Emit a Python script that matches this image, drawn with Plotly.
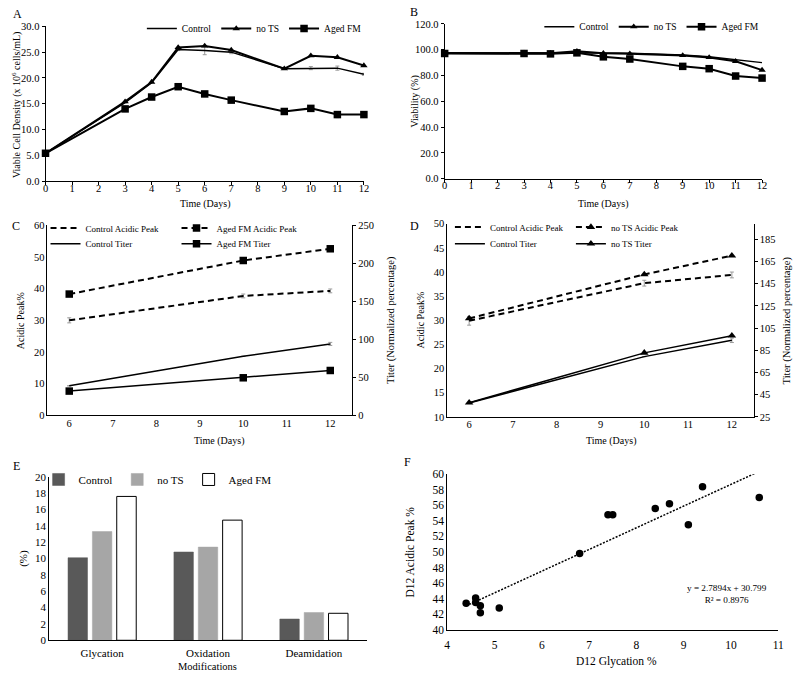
import plotly.graph_objects as go

W, H = 800, 678

# ---------------- data ----------------
days_A = [0, 3, 4, 5, 6, 7, 9, 10, 11, 12]
vcd_control = [5.4, 15.2, 19.1, 25.5, 25.3, 25.0, 21.8, 21.9, 21.9, 20.7]
vcd_control_err = [0, 0, 0, 0.2, 0.8, 0.3, 0, 0.3, 0.4, 0.2]
vcd_nots = [5.4, 15.4, 19.2, 25.9, 26.2, 25.4, 21.8, 24.3, 24.0, 22.4]
vcd_aged = [5.4, 14.0, 16.3, 18.3, 16.9, 15.7, 13.5, 14.1, 12.9, 12.9]
vcd_aged_err = [0, 0, 0, 0, 0, 0, 0, 0, 0.6, 0]

via_control = [97.5, 97.6, 97.5, 98.0, 97.5, 97.3, 96.0, 94.5, 92.0, 90.0]
via_nots = [97.5, 97.5, 97.3, 98.8, 97.3, 96.9, 95.6, 94.0, 91.0, 84.2]
via_aged = [97.1, 97.1, 96.8, 97.6, 94.5, 92.8, 87.1, 85.3, 79.6, 78.0]

days_CD = [6, 10, 12]
c_ctrl_acid = [30.0, 37.7, 39.3]
c_ctrl_acid_err = [0.8, 0.6, 0.6]
c_aged_acid = [38.3, 48.9, 52.6]
c_ctrl_titer = [38.8, 77.6, 94.0]
c_ctrl_titer_err = [0, 0, 2.0]
c_aged_titer = [31.9, 49.4, 59.0]

d_ctrl_acid = [29.9, 37.7, 39.4]
d_ctrl_acid_err = [0.9, 0.6, 0.6]
d_nots_acid = [30.4, 39.5, 43.4]
d_ctrl_titer = [37.6, 79.3, 94.0]
d_ctrl_titer_err = [0, 0, 2.0]
d_nots_titer = [37.8, 82.7, 98.2]

mod_cats = ["Glycation", "Oxidation", "Deamidation"]
mod_control = [10.1, 10.8, 2.6]
mod_nots = [13.3, 11.4, 3.4]
mod_aged = [17.6, 14.7, 3.3]

f_glycation = [4.4, 4.6, 4.6, 4.7, 4.7, 5.1, 6.8, 7.4, 7.5, 8.4, 8.7, 9.1, 9.4, 10.6]
f_acidic = [43.4, 44.1, 43.5, 43.1, 42.2, 42.8, 49.8, 54.8, 54.8, 55.6, 56.2, 53.5, 58.4, 57.0]
trend_slope = 2.7894
trend_intercept = 30.799
trend_x = [4.4, 10.5]
trend_label = "y = 2.7894x + 30.799<br>R² = 0.8976"

# ---------------- helpers ----------------
FONT = "Liberation Serif"
def fx(p):
    return p / W
def fy(p):
    return 1 - p / H

ERR = dict(color="#9a9a9a", thickness=1, width=2)

def errs(arr):
    return dict(type="data", array=arr, visible=True, **ERR)

fig = go.Figure()

# ---------- Panel A ----------
fig.add_trace(go.Scatter(x=days_A, y=vcd_control, name="Control", mode="lines",
                         line=dict(color="black", width=1.5), error_y=errs(vcd_control_err),
                         xaxis="x", yaxis="y", legend="legend", cliponaxis=False))
fig.add_trace(go.Scatter(x=days_A, y=vcd_nots, name="no TS", mode="lines+markers",
                         line=dict(color="black", width=2),
                         marker=dict(symbol="triangle-up", size=6.5, color="black"),
                         xaxis="x", yaxis="y", legend="legend", cliponaxis=False))
fig.add_trace(go.Scatter(x=days_A, y=vcd_aged, name="Aged FM", mode="lines+markers",
                         line=dict(color="black", width=2),
                         marker=dict(symbol="square", size=7.5, color="black"),
                         error_y=errs(vcd_aged_err),
                         xaxis="x", yaxis="y", legend="legend", cliponaxis=False))

# ---------- Panel B ----------
fig.add_trace(go.Scatter(x=days_A, y=via_control, name="Control", mode="lines",
                         line=dict(color="black", width=1.5),
                         xaxis="x2", yaxis="y2", legend="legend2", cliponaxis=False))
fig.add_trace(go.Scatter(x=days_A, y=via_nots, name="no TS", mode="lines+markers",
                         line=dict(color="black", width=2),
                         marker=dict(symbol="triangle-up", size=6.5, color="black"),
                         xaxis="x2", yaxis="y2", legend="legend2", cliponaxis=False))
fig.add_trace(go.Scatter(x=days_A, y=via_aged, name="Aged FM", mode="lines+markers",
                         line=dict(color="black", width=2),
                         marker=dict(symbol="square", size=7.5, color="black"),
                         xaxis="x2", yaxis="y2", legend="legend2", cliponaxis=False))

DASH = "6px,4px"
# ---------- Panel C ----------
fig.add_trace(go.Scatter(x=days_CD, y=c_ctrl_acid, name="Control Acidic Peak", mode="lines",
                         line=dict(color="black", width=2, dash=DASH), error_y=errs(c_ctrl_acid_err),
                         xaxis="x3", yaxis="y3", legend="legend3", legendwidth=86, cliponaxis=False))
fig.add_trace(go.Scatter(x=days_CD, y=c_aged_acid, name="Aged FM Acidic Peak", mode="lines+markers",
                         line=dict(color="black", width=2, dash=DASH),
                         marker=dict(symbol="square", size=7.5, color="black"),
                         xaxis="x3", yaxis="y3", legend="legend3", legendwidth=95, cliponaxis=False))
fig.add_trace(go.Scatter(x=days_CD, y=c_ctrl_titer, name="Control Titer", mode="lines",
                         line=dict(color="black", width=1.5), error_y=errs(c_ctrl_titer_err),
                         xaxis="x3", yaxis="y4", legend="legend4", legendwidth=86, cliponaxis=False))
fig.add_trace(go.Scatter(x=days_CD, y=c_aged_titer, name="Aged FM Titer", mode="lines+markers",
                         line=dict(color="black", width=1.5),
                         marker=dict(symbol="square", size=7.5, color="black"),
                         xaxis="x3", yaxis="y4", legend="legend4", legendwidth=95, cliponaxis=False))

# ---------- Panel D ----------
fig.add_trace(go.Scatter(x=days_CD, y=d_ctrl_acid, name="Control Acidic Peak", mode="lines",
                         line=dict(color="black", width=2, dash=DASH), error_y=errs(d_ctrl_acid_err),
                         xaxis="x4", yaxis="y5", legend="legend5", legendwidth=76, cliponaxis=False))
fig.add_trace(go.Scatter(x=days_CD, y=d_nots_acid, name="no TS Acidic Peak", mode="lines+markers",
                         line=dict(color="black", width=2, dash=DASH),
                         marker=dict(symbol="triangle-up", size=7.5, color="black"),
                         xaxis="x4", yaxis="y5", legend="legend5", legendwidth=90, cliponaxis=False))
fig.add_trace(go.Scatter(x=days_CD, y=d_ctrl_titer, name="Control Titer", mode="lines",
                         line=dict(color="black", width=1.5), error_y=errs(d_ctrl_titer_err),
                         xaxis="x4", yaxis="y6", legend="legend6", legendwidth=76, cliponaxis=False))
fig.add_trace(go.Scatter(x=days_CD, y=d_nots_titer, name="no TS Titer", mode="lines+markers",
                         line=dict(color="black", width=1.5),
                         marker=dict(symbol="triangle-up", size=7.5, color="black"),
                         xaxis="x4", yaxis="y6", legend="legend6", legendwidth=90, cliponaxis=False))

# ---------- Panel E ----------
fig.add_trace(go.Bar(x=mod_cats, y=mod_control, name="Control",
                     marker=dict(color="#595959", line=dict(color="#595959", width=0.5)),
                     xaxis="x5", yaxis="y7", legend="legend7"))
fig.add_trace(go.Bar(x=mod_cats, y=mod_nots, name="no TS",
                     marker=dict(color="#a6a6a6", line=dict(color="#a6a6a6", width=0.5)),
                     xaxis="x5", yaxis="y7", legend="legend7"))
fig.add_trace(go.Bar(x=mod_cats, y=mod_aged, name="Aged FM",
                     marker=dict(color="white", line=dict(color="black", width=1)),
                     xaxis="x5", yaxis="y7", legend="legend7"))

# ---------- Panel F ----------
fig.add_trace(go.Scatter(x=f_glycation, y=f_acidic, mode="markers", showlegend=False,
                         marker=dict(symbol="circle", size=7.5, color="black"),
                         xaxis="x6", yaxis="y8", cliponaxis=False))
trend_y = [trend_slope * v + trend_intercept for v in trend_x]
fig.add_trace(go.Scatter(x=trend_x, y=trend_y, mode="lines", showlegend=False,
                         line=dict(color="black", width=1.5, dash="2px,1.5px"),
                         xaxis="x6", yaxis="y8", cliponaxis=False))

# ---------------- axes ----------------
TICKF = dict(family=FONT, size=10.5, color="black")
TICKF_EF = dict(family=FONT, size=11.5, color="black")
base = dict(showline=True, linecolor="black", linewidth=1, showgrid=False, zeroline=False,
            ticks="outside", ticklen=3, tickcolor="black", tickwidth=1, tickfont=TICKF)

def xa(d0, d1, anchor, **kw):
    a = dict(base); a.update(domain=[fx(d0), fx(d1)], anchor=anchor); a.update(kw); return a
def ya(top, bottom, anchor, **kw):
    a = dict(base); a.update(domain=[fy(bottom), fy(top)], anchor=anchor); a.update(kw); return a

layout = dict(
    width=W, height=H, margin=dict(l=0, r=0, t=0, b=0),
    paper_bgcolor="white", plot_bgcolor="rgba(0,0,0,0)",
    font=dict(family=FONT, color="black", size=10.5),
    barmode="group", bargap=0.31, bargroupgap=0.2,
    # A
    xaxis=xa(43, 365, "y", range=[0, 12], dtick=1, ticklabelstandoff=-6),
    yaxis=ya(20.7, 178.3, "x", range=[0, 30], dtick=5, tickformat=".1f"),
    # B
    xaxis2=xa(446.7, 767.7, "y2", range=[0, 12], dtick=1, ticklabelstandoff=-6),
    yaxis2=ya(18.3, 175.7, "x2", range=[0, 120], dtick=20, tickformat=".1f"),
    # C
    xaxis3=xa(45, 353, "y3", range=[5.5, 12.5], dtick=1, ticks="", ticklabelstandoff=-2),
    yaxis3=ya(223.3, 416.7, "x3", range=[0, 60], dtick=10, ticks=""),
    yaxis4=ya(223.3, 416.7, "x3", range=[0, 250], dtick=50, overlaying="y3", side="right"),
    # D
    xaxis4=xa(449.3, 759.3, "y5", range=[5.5, 12.5], dtick=1, ticks="", ticklabelstandoff=-2),
    yaxis5=ya(221.7, 418.3, "x4", range=[10, 50], dtick=5, ticks=""),
    yaxis6=ya(221.7, 418.3, "x4", range=[25, 199], tick0=25, dtick=20,
              overlaying="y5", side="right"),
    # E
    xaxis5=xa(46.7, 368, "y7", ticks="", type="category", tickfont=dict(TICKF, size=11),
              ticklabelstandoff=3),
    yaxis7=ya(479.3, 645.7, "x5", range=[0, 20], dtick=2, ticks="", tickfont=dict(TICKF, size=11)),
    # F
    xaxis6=xa(449.3, 784, "y8", range=[4, 11], dtick=1, ticks="", tickfont=TICKF_EF,
              ticklabelstandoff=4),
    yaxis8=ya(476.7, 635, "x6", range=[40, 60], dtick=2, ticks="", tickfont=TICKF_EF),
)

def leg(x, y, xanchor="left", size=9):
    return dict(orientation="h", x=fx(x), y=fy(y), xanchor=xanchor, yanchor="middle",
                bgcolor="rgba(0,0,0,0)", borderwidth=0,
                font=dict(family=FONT, size=size, color="black"), itemwidth=30,
                tracegroupgap=0, itemclick=False, itemdoubleclick=False)

layout.update(
    legend=leg(368, 23, xanchor="right", size=9.5),
    legend2=leg(770, 21, xanchor="right", size=9.5),
    legend3=leg(43, 226),
    legend4=leg(43, 242),
    legend5=leg(452, 225),
    legend6=leg(452, 242),
    legend7=leg(36, 482, size=11),
)
fig.update_layout(**layout)

# ---------------- text annotations ----------------
def ann(text, x, y, size=10, angle=0):
    fig.add_annotation(text=text, x=fx(x), y=fy(y), xref="paper", yref="paper",
                       showarrow=False, textangle=angle, xanchor="center", yanchor="middle",
                       font=dict(family=FONT, size=size, color="black"))

# panel letters
ann("A", 15, 8, 12)
ann("B", 416, 6, 12)
ann("C", 13, 224, 12)
ann("D", 416, 224, 12)
ann("E", 14, 468, 12)
ann("F", 409, 464, 12)

# axis titles
ann("Viable Cell Density (x 10<sup>6</sup> cells/mL)", 13, 100, 10, -90)
ann("Time (Days)", 204, 202, 10)
ann("Viability (%)", 417, 97, 10, -90)
ann("Time (Days)", 607, 202, 10)
ann("Acidic Peak%", 18, 320, 10, -90)
ann("Titer (Normalized percentage)", 393, 320, 10.5, -90)
ann("Time (Days)", 218, 443, 10)
ann("Acidic Peak%", 422, 320, 10, -90)
ann("Titer (Normalized percentage)", 793, 320, 10.5, -90)
ann("Time (Days)", 615, 443, 10)
ann("(%)", 20, 562, 11, -90)
ann("Modifications", 207, 672, 10.5)
ann("D12 Acidic Peak %", 412, 556, 11.5, -90)
ann("D12 Glycation %", 620, 667, 11.5)
ann(trend_label, 732, 599, 9.2)

fig.write_html("out.html", config={"displayModeBar": False, "staticPlot": True},
               post_script="document.body.style.margin='0px';document.body.style.overflow='hidden';")
